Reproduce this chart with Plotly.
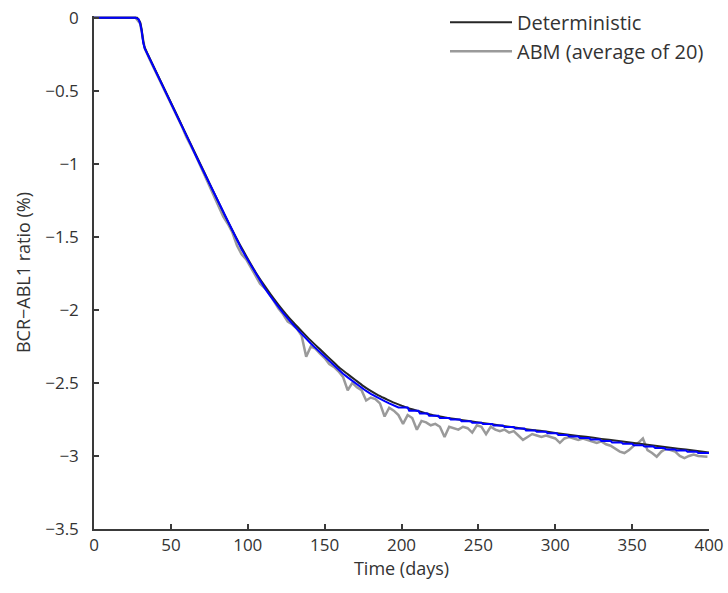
import plotly.graph_objects as go

# ---- data ----
det_days = [0, 25, 28, 30, 31, 32, 33, 35, 40, 45, 50, 55, 60, 65, 70, 75, 80, 85, 90, 95,
            100, 105, 110, 115, 120, 125, 130, 135, 140, 145, 150, 155, 160, 165, 170, 175,
            180, 185, 190, 195, 200, 205, 210, 215, 220, 225, 230, 240, 250, 260, 270, 280,
            290, 300, 310, 320, 330, 340, 350, 360, 370, 380, 390, 400]
det_vals = [0, 0, 0, -0.03, -0.08, -0.16, -0.205, -0.25, -0.36, -0.47, -0.58, -0.69, -0.80,
            -0.91, -1.02, -1.13, -1.24, -1.35, -1.455, -1.555, -1.65, -1.74, -1.82, -1.895,
            -1.965, -2.03, -2.09, -2.145, -2.20, -2.25, -2.30, -2.35, -2.40, -2.44, -2.48,
            -2.52, -2.555, -2.585, -2.61, -2.635, -2.655, -2.675, -2.69, -2.705, -2.72, -2.73,
            -2.74, -2.755, -2.77, -2.785, -2.80, -2.815, -2.828, -2.842, -2.856, -2.869,
            -2.883, -2.896, -2.909, -2.923, -2.936, -2.950, -2.963, -2.976]

abm_days = [0, 27] + list(range(30, 400, 3))
abm_vals = [0, 0,
            -0.04, -0.21, -0.28, -0.345, -0.41, -0.47, -0.545, -0.61, -0.675, -0.74,
            -0.815, -0.875, -0.94, -1.01, -1.08, -1.15, -1.22, -1.30, -1.36, -1.41,
            -1.47, -1.56, -1.62, -1.655, -1.71, -1.76, -1.82, -1.85, -1.89, -1.94,
            -1.99, -2.03, -2.08, -2.10, -2.13, -2.175, -2.32, -2.25, -2.265, -2.30,
            -2.33, -2.37, -2.39, -2.42, -2.46, -2.55, -2.50, -2.53, -2.55, -2.62,
            -2.60, -2.61, -2.64, -2.73, -2.67, -2.69, -2.72, -2.78, -2.72, -2.74,
            -2.82, -2.76, -2.77, -2.79, -2.78, -2.80, -2.87, -2.80, -2.81, -2.82,
            -2.80, -2.81, -2.84, -2.79, -2.80, -2.85, -2.80, -2.82, -2.83, -2.82,
            -2.84, -2.83, -2.86, -2.89, -2.87, -2.85, -2.86, -2.87, -2.86, -2.87,
            -2.88, -2.91, -2.88, -2.87, -2.88, -2.89, -2.88, -2.89, -2.90, -2.91,
            -2.90, -2.92, -2.93, -2.95, -2.97, -2.98, -2.96, -2.93, -2.91, -2.88,
            -2.96, -2.98, -3.005, -2.97, -2.95, -2.96, -2.97, -3.00, -3.015, -3.00,
            -2.99, -3.00, -3.00, -3.005]

blue_days = [0, 27, 29, 30, 31, 32, 33] + list(range(36, 198, 3)) + \
            [198, 204, 205, 211, 212, 217, 218, 224, 225, 231, 232, 238, 239, 245, 246, 252,
             253, 259, 260, 266, 267, 273, 274, 280, 281, 287, 288, 294, 295, 301, 302, 308,
             309, 315, 316, 322, 323, 329, 330, 336, 337, 343, 344, 350, 351, 357, 358, 364,
             365, 371, 372, 378, 379, 385, 386, 392, 393, 400]
blue_vals = [0, 0, -0.01, -0.04, -0.09, -0.17, -0.21,
             -0.275, -0.345, -0.41, -0.475, -0.54, -0.605, -0.675, -0.74, -0.805, -0.87,
             -0.94, -1.005, -1.07, -1.14, -1.205, -1.27, -1.335, -1.40, -1.46, -1.525,
             -1.585, -1.64, -1.695, -1.75, -1.80, -1.85, -1.895, -1.94, -1.98, -2.02,
             -2.06, -2.095, -2.13, -2.165, -2.198, -2.23, -2.26, -2.29, -2.32, -2.35,
             -2.38, -2.41, -2.437, -2.462, -2.486, -2.51, -2.533, -2.555, -2.575, -2.593,
             -2.61, -2.625, -2.64, -2.655,
             -2.668, -2.668, -2.69, -2.69, -2.71, -2.71, -2.725, -2.725, -2.74, -2.74,
             -2.75, -2.75, -2.762, -2.762, -2.772, -2.772, -2.782, -2.782, -2.792, -2.792,
             -2.802, -2.802, -2.812, -2.812, -2.825, -2.825, -2.835, -2.835, -2.845, -2.845,
             -2.857, -2.857, -2.867, -2.867, -2.877, -2.877, -2.887, -2.887, -2.897, -2.897,
             -2.907, -2.907, -2.917, -2.917, -2.926, -2.926, -2.936, -2.936, -2.945, -2.945,
             -2.955, -2.955, -2.963, -2.963, -2.971, -2.971, -2.98, -2.98]

x_ticks = [0, 50, 100, 150, 200, 250, 300, 350, 400]
y_ticks = [0, -0.5, -1, -1.5, -2, -2.5, -3, -3.5]

FONT = "Open Sans"
AX = "#3a3a3a"
TXT = "#333333"

fig = go.Figure()
fig.add_trace(go.Scatter(x=abm_days, y=abm_vals, mode="lines", name="ABM (average of 20)",
                         line=dict(color="#9a9a9a", width=2.5)))
fig.add_trace(go.Scatter(x=det_days, y=det_vals, mode="lines", name="Deterministic",
                         line=dict(color="#262626", width=2, shape="spline", smoothing=0.4)))
fig.add_trace(go.Scatter(x=blue_days, y=blue_vals, mode="lines", showlegend=False,
                         line=dict(color="#0000ff", width=2)))

fig.update_layout(
    width=728, height=593,
    margin=dict(l=94, r=19, t=16, b=64, autoexpand=False),
    plot_bgcolor="white", paper_bgcolor="white",
    font=dict(family=FONT, size=17, color=TXT),
    showlegend=True,
    legend=dict(x=1.0, y=1.026, xanchor="right", yanchor="top", traceorder="reversed",
                bgcolor="rgba(0,0,0,0)", font=dict(size=20, color=TXT),
                itemwidth=62, tracegroupgap=0),
    xaxis=dict(range=[0, 400], tickvals=x_ticks, showline=True, linecolor=AX, linewidth=1.5,
               ticks="inside", ticklen=5, tickcolor=AX, tickwidth=1.5, showgrid=False,
               zeroline=False, automargin=False,
               title=dict(text="Time (days)", font=dict(size=18), standoff=4),
               tickfont=dict(size=17)),
    yaxis=dict(range=[-3.5, 0.012], tickvals=y_ticks, showline=True, linecolor=AX, linewidth=1.5,
               ticks="inside", ticklen=5, tickcolor=AX, tickwidth=1.5, showgrid=False,
               zeroline=False, automargin=False,
               title=dict(text="BCR\u2212ABL1 ratio (%)", font=dict(size=18), standoff=10),
               tickfont=dict(size=17), ticklabelstandoff=10),
)

fig.write_html("out.html", config={"displayModeBar": False},
               post_script="document.body.style.margin='0';")
